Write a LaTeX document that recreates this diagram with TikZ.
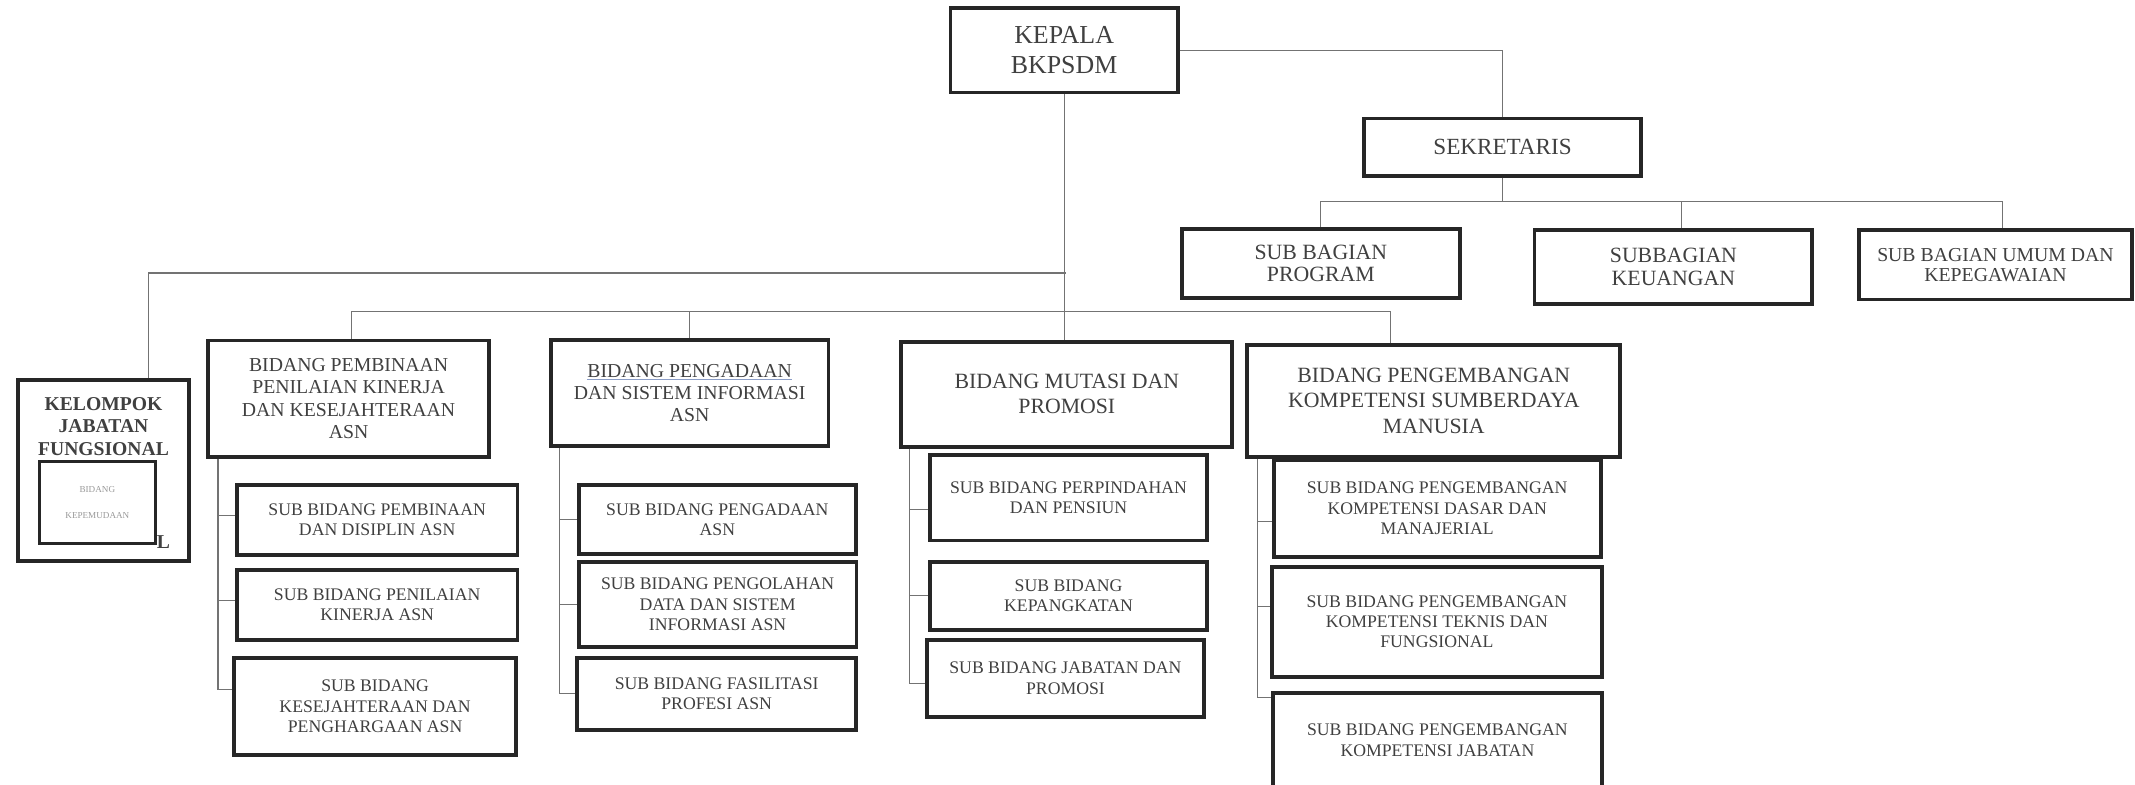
\documentclass[tikz,border=0pt]{standalone}
\usepackage{fontspec}
\setmainfont{Liberation Serif}
\usetikzlibrary{positioning}
\definecolor{boxline}{rgb}{0.15,0.15,0.15}
\definecolor{textgrey}{rgb}{0.25,0.25,0.25}
\definecolor{linkgrey}{rgb}{0.45,0.45,0.45}
\definecolor{faintgrey}{rgb}{0.6,0.6,0.6}
\definecolor{linkblue}{rgb}{0.55,0.62,0.78}

\begin{document}
\begin{tikzpicture}[x=1pt, y=-1pt,
    unit/.style={draw=boxline, line width=2.8pt, inner sep=0pt, align=center, text=textgrey},
    head/.style={unit, font=\fontsize{19}{22}\selectfont},
    sekr/.style={unit, font=\fontsize{17}{19}\selectfont},
    bagian/.style={unit, font=\fontsize{16}{16.5}\selectfont},
    bidang/.style={unit, font=\fontsize{14.5}{16.5}\selectfont},
    bidangbig/.style={unit, font=\fontsize{16}{18.5}\selectfont},
    subunit/.style={unit, font=\fontsize{13}{15}\selectfont},
    boldlabel/.style={font=\bfseries\fontsize{14.4}{16.5}\selectfont, text=textgrey, align=center},
    link/.style={draw=linkgrey, line width=0.8pt}
]
\useasboundingbox[fill=white] (0,0) rectangle (1568,576);

% Leadership
\node[head, minimum width=167pt, minimum height=62pt] (kepala) at (781.5,37) {KEPALA\\BKPSDM};
\node[sekr, minimum width=203pt, minimum height=42pt] (sekretaris) at (1103.5,108) {SEKRETARIS};

% Secretariat
\node[bagian, minimum width=204pt, minimum height=51pt] (program) at (970,193.5) {SUB BAGIAN\\PROGRAM};
\node[bagian, minimum width=204pt, minimum height=54pt] (keuangan) at (1229,196) {SUBBAGIAN\\KEUANGAN};
\node[bagian, font=\fontsize{14.5}{15}\selectfont, minimum width=201pt, minimum height=51pt] (umum) at (1465.5,194.5) {SUB BAGIAN UMUM DAN\\KEPEGAWAIAN};

% Functional group
\node[unit, minimum width=126pt, minimum height=133pt] (kelompok) at (76,345.5) {};
\node[boldlabel] (kelompoklabel) at (76,313) {KELOMPOK\\JABATAN\\FUNGSIONAL};
\node[draw=boxline, line width=2pt, inner sep=0pt, minimum width=85pt, minimum height=60pt, text=faintgrey, align=center, font=\fontsize{6.7}{19.5}\selectfont] (kepemudaan) at (71.5,369) {BIDANG\\KEPEMUDAAN};
\node[boldlabel, anchor=west, inner sep=0pt] (sisal) at (115,398) {L};

% Fields
\node[bidang, minimum width=206pt, minimum height=85.5pt] (pembinaan) at (256,292.75) {BIDANG PEMBINAAN\\PENILAIAN KINERJA\\DAN KESEJAHTERAAN\\ASN};
\node[bidang, minimum width=204pt, minimum height=78pt] (pengadaan) at (506.5,288.65) {\textcolor{linkblue}{\underline{\textcolor{textgrey}{BIDANG PENGADAAN}}}\\DAN SISTEM INFORMASI\\ASN};
\node[bidangbig, minimum width=243pt, minimum height=77pt] (mutasi) at (783.5,289.5) {BIDANG MUTASI DAN\\PROMOSI};
\node[bidangbig, minimum width=274pt, minimum height=82pt] (pengembangan) at (1053,294.4) {BIDANG PENGEMBANGAN\\KOMPETENSI SUMBERDAYA\\MANUSIA};

% Sub fields
\node[subunit, minimum width=206pt, minimum height=51.6pt] (pb1) at (277,381.8) {SUB BIDANG PEMBINAAN\\DAN DISIPLIN ASN};
\node[subunit, minimum width=206pt, minimum height=51.4pt] (pb2) at (277,444.3) {SUB BIDANG PENILAIAN\\KINERJA ASN};
\node[subunit, minimum width=207pt, minimum height=71.5pt] (pb3) at (275.5,518.75) {SUB BIDANG\\KESEJAHTERAAN DAN\\PENGHARGAAN ASN};

\node[subunit, minimum width=203.7pt, minimum height=51pt] (pg1) at (526.85,381.5) {SUB BIDANG PENGADAAN\\ASN};
\node[subunit, minimum width=204pt, minimum height=62pt] (pg2) at (527,444) {SUB BIDANG PENGOLAHAN\\DATA DAN SISTEM\\INFORMASI ASN};
\node[subunit, minimum width=204.7pt, minimum height=53pt] (pg3) at (526.35,509.5) {SUB BIDANG FASILITASI\\PROFESI ASN};

\node[subunit, minimum width=203.5pt, minimum height=63pt] (mt1) at (784.75,365.5) {SUB BIDANG PERPINDAHAN\\DAN PENSIUN};
\node[subunit, minimum width=203.5pt, minimum height=50.2pt] (mt2) at (784.75,437.6) {SUB BIDANG\\KEPANGKATAN};
\node[subunit, minimum width=203pt, minimum height=56.4pt] (mt3) at (782.5,498.2) {SUB BIDANG JABATAN DAN\\PROMOSI};

\node[subunit, minimum width=240.2pt, minimum height=71.5pt] (pk1) at (1055.5,373.55) {SUB BIDANG PENGEMBANGAN\\KOMPETENSI DASAR DAN\\MANAJERIAL};
\node[subunit, minimum width=242.6pt, minimum height=80.8pt] (pk2) at (1055.3,456.6) {SUB BIDANG PENGEMBANGAN\\KOMPETENSI TEKNIS DAN\\FUNGSIONAL};
\node[subunit, minimum width=241.3pt, minimum height=68.8pt] (pk3) at (1055.65,543.6) {SUB BIDANG PENGEMBANGAN\\KOMPETENSI JABATAN};

% Connectors
\coordinate (sbus) at (1106,148);
\coordinate (jbus) at (783,200.5);
\coordinate (bbus) at (783,228.5);

\draw[link] (kepala.east) -| (sekretaris.north);
\draw[link] (sekretaris.south) -- (sekretaris.south |- sbus);
\draw[link] (program.north) |- ([xshift=5pt]umum.north |- sbus) -- ([xshift=5pt]umum.north);
\draw[link] ([xshift=6pt]keuangan.north) -- ([xshift=6pt]keuangan.north |- sbus);

\draw[link] (kepala.south) -- (kepala.south |- mutasi.north);
\draw[link] ([xshift=33pt]kelompok.north) |- (jbus);
\draw[link] ([xshift=2pt]pembinaan.north) |- ([xshift=-32pt]pengembangan.north |- bbus) -- ([xshift=-32pt]pengembangan.north);
\draw[link] (pengadaan.north) -- (pengadaan.north |- bbus);

\draw[link] ([xshift=8.5pt]pembinaan.south west) coordinate (pbspine) |- ([yshift=12.5pt]pb3.west);
\draw[link] ([yshift=3pt]pb1.west) -- ([yshift=3pt]pb1.west -| pbspine);
\draw[link] ([yshift=3pt]pb2.west) -- ([yshift=3pt]pb2.west -| pbspine);

\draw[link] ([xshift=8pt]pengadaan.south west) coordinate (pgspine) |- (pg3.west);
\draw[link] (pg1.west) -- (pg1.west -| pgspine);
\draw[link] (pg2.west) -- (pg2.west -| pgspine);

\draw[link] ([xshift=7.5pt]mutasi.south west) coordinate (mtspine) |- ([yshift=-4pt]mt3.west);
\draw[link] ([yshift=-9pt]mt1.west) -- ([yshift=-9pt]mt1.west -| mtspine);
\draw[link] (mt2.west) -- (mt2.west -| mtspine);

\draw[link] ([xshift=9pt]pengembangan.south west) coordinate (pkspine) |- ([yshift=31.5pt]pk3.west);
\draw[link] ([yshift=-9.5pt]pk1.west) -- ([yshift=-9.5pt]pk1.west -| pkspine);
\draw[link] ([yshift=11.5pt]pk2.west) -- ([yshift=11.5pt]pk2.west -| pkspine);

\end{tikzpicture}
\end{document}
